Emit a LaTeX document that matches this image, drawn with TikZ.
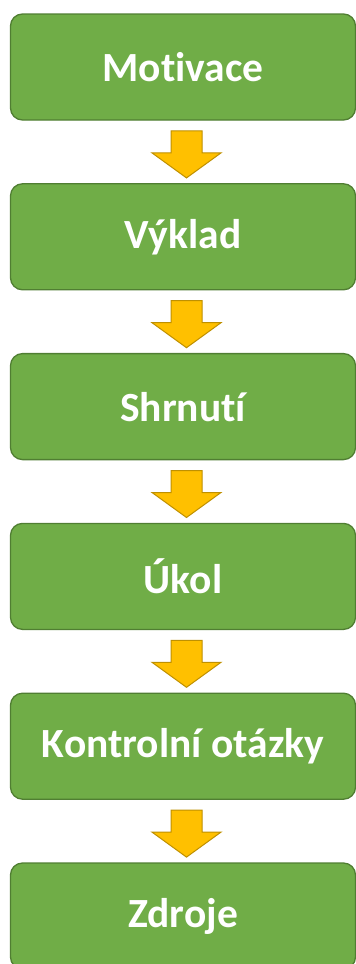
\documentclass[tikz,border=0pt]{standalone}
\usepackage{fontspec}
\setmainfont{Carlito}[Ligatures={NoCommon}]
\usetikzlibrary{calc}
\definecolor{boxgreen}{HTML}{70AD47}
\definecolor{boxedge}{HTML}{507E32}
\definecolor{arrfill}{HTML}{FFC000}
\definecolor{arredge}{HTML}{BF9000}
\tikzset{
  stepbox/.style={draw=boxedge, line width=1.3pt, fill=boxgreen, rounded corners=12pt,
    minimum width=345pt, minimum height=106pt, inner sep=0pt,
    text=white, font=\fontsize{41.5}{48}\selectfont\bfseries},
  blockarr/.style={draw=arredge, line width=1pt, fill=arrfill, line join=miter}
}
\begin{document}
\begin{tikzpicture}[x=1pt,y=1pt]
\useasboundingbox (0,0) rectangle (356,-964);
\clip (0,0) rectangle (356,-964);
\node[stepbox] (b1) at (183,-67) {Motivace};
\node[stepbox] (b2) at (183,-236.8) {Výklad};
\node[stepbox] (b3) at (183,-406.6) {Shrnutí};
\node[stepbox] (b4) at (183,-576.4) {Úkol};
\node[stepbox] (b5) at (183,-746.2) {Kontrolní otázky};
\node[stepbox] (b6) at (183,-916) {Zdroje};
\foreach \a/\b in {b1/b2,b2/b3,b3/b4,b4/b5,b5/b6}{
  \coordinate (m) at ($(\a.south)!0.5!(\b.north)+(3.5,0)$);
  \draw[blockarr] ($(m)+(-15.5,21)$) -- ($(m)+(15.5,21)$) -- ($(m)+(15.5,-1)$)
    -- ($(m)+(34.5,-1)$) -- ($(m)+(0,-26)$) -- ($(m)+(-34.5,-1)$)
    -- ($(m)+(-15.5,-1)$) -- cycle;
}
\end{tikzpicture}
\end{document}
